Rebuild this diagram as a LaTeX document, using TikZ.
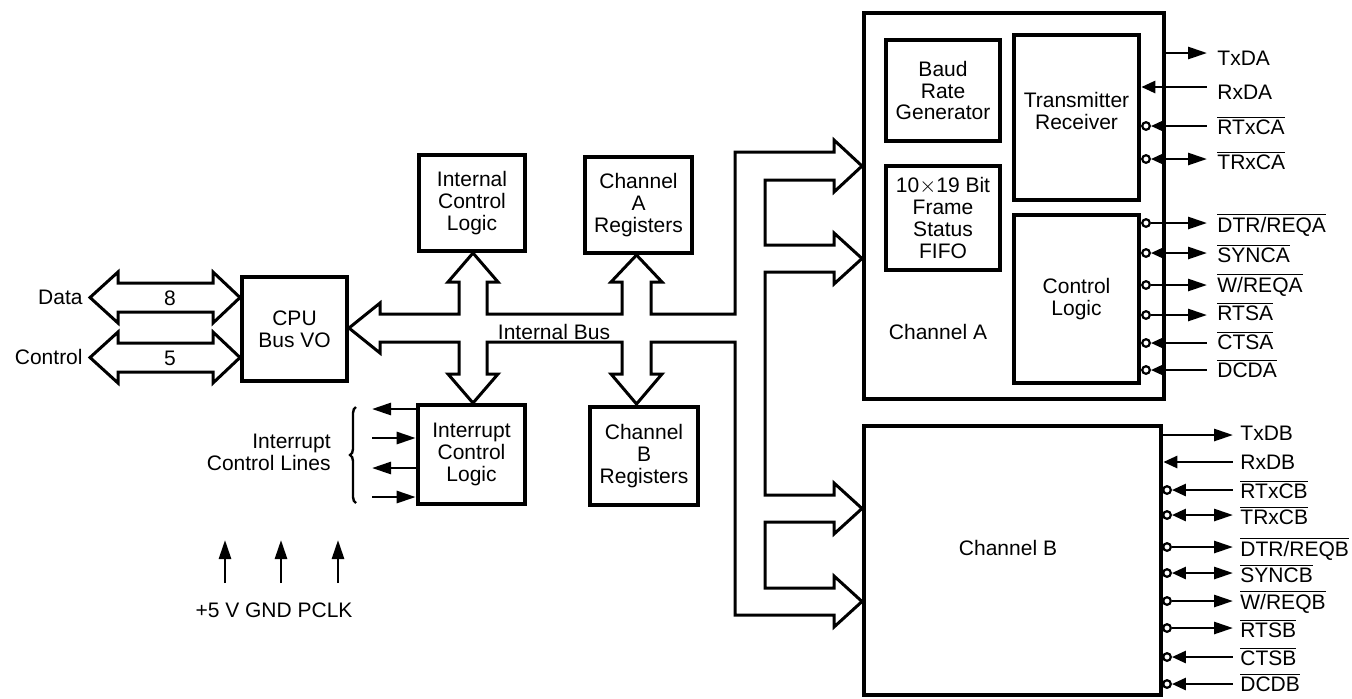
\documentclass[tikz,border=0pt]{standalone}
\usepackage{fontspec}
\setmainfont{Liberation Sans}
\usetikzlibrary{arrows.meta,decorations.pathreplacing}
\newcommand\ovl[1]{$\overline{\hbox{#1}}$}
\tikzset{
  bg/.tip={Triangle[length=9.5pt,width=6pt]},
  sm/.tip={Triangle[length=7pt,width=6pt]}
}
\begin{document}
\begin{tikzpicture}[x=0.5pt,y=-0.5pt,
  every node/.style={font=\fontsize{10.5}{10.9}\selectfont},
  blk/.style={draw,line width=2.3pt,align=center,inner sep=0pt},
  bus/.style={draw,line width=1.5pt,line join=miter},
  pinl/.style={line width=1.35pt},
  pc/.style={circle,draw,line width=1.1pt,fill=white,minimum size=3.8pt,inner sep=0pt},
  lbl/.style={anchor=base west,inner sep=0pt},
  txt/.style={inner sep=0pt}]

\useasboundingbox (0,0) rectangle (1352,698);

% ---------- blocks ----------
\node[blk,minimum width=52.5pt,minimum height=52pt] (cpu) at (294.5,329) {CPU\\Bus VO};
\node[blk,minimum width=53pt,minimum height=48pt] (icl) at (472,203) {Internal\\Control\\Logic};
\node[blk,minimum width=53.5pt,minimum height=48pt] (areg) at (638.5,205) {Channel\\A\\Registers};
\node[blk,minimum width=53.5pt,minimum height=49.5pt] (intr) at (471.5,454.5) {Interrupt\\Control\\Logic};
\node[blk,minimum width=54pt,minimum height=49pt] (breg) at (644,456) {Channel\\B\\Registers};

\node[blk,minimum width=150pt,minimum height=193pt] (cha) at (1014,206) {};
\node[blk,minimum width=57pt,minimum height=50.5pt] (baud) at (943,90.5) {Baud\\Rate\\Generator};
\node[blk,minimum width=57pt,minimum height=52pt] (fifo) at (943,218) {10$\times$19 Bit\\Frame\\Status\\FIFO};
\node[blk,minimum width=62.5pt,minimum height=82.5pt] (txrx) at (1076.5,117.5) {};
\node[txt,align=center] (txrxl) at (1076.5,111) {Transmitter\\Receiver};
\node[blk,minimum width=62.5pt,minimum height=84pt] (ctrl) at (1076.5,299) {Control\\Logic};
\node[txt] (chal) at (938,332) {Channel A};

\node[blk,minimum width=148.5pt,minimum height=134.5pt] (chb) at (1012.5,560.5) {};
\node[txt] (chbl) at (1008,548) {Channel B};

% ---------- internal bus ----------
\draw[bus] (349,328) -- (380,303) -- (380,314) -- (459,314) -- (459,282) -- (448,282)
  -- (473,253) -- (498,282) -- (487,282) -- (487,314) -- (622,314) -- (622,282)
  -- (611,282) -- (636.5,255) -- (662,282) -- (651,282) -- (651,314) -- (735,314)
  -- (735,152) -- (834,152) -- (834,140) -- (862,166) -- (834,192) -- (834,180)
  -- (765,180) -- (765,245) -- (834,245) -- (834,233) -- (862,258.5) -- (834,284)
  -- (834,272) -- (765,272) -- (765,495) -- (834,495) -- (834,483) -- (862,508.5)
  -- (834,534) -- (834,522) -- (765,522) -- (765,588) -- (834,588) -- (834,576)
  -- (862,601.5) -- (834,627) -- (834,615) -- (735,615) -- (735,342) -- (651,342)
  -- (651,374) -- (662,374) -- (636.5,404) -- (611,374) -- (622,374) -- (622,342)
  -- (487,342) -- (487,374) -- (498,374) -- (473,403) -- (448,374) -- (459,374)
  -- (459,342) -- (380,342) -- (380,353) -- cycle;
\node[txt] (ibus) at (554,332) {Internal Bus};

% ---------- data / control ----------
\draw[bus] (90,297.5) -- (118,272) -- (118,283) -- (213,283) -- (213,272) -- (240,297.5)
  -- (213,323) -- (213,312) -- (118,312) -- (118,323) -- cycle;
\draw[bus] (90,357.5) -- (118,332) -- (118,343) -- (213,343) -- (213,332) -- (240,357.5)
  -- (213,383) -- (213,372) -- (118,372) -- (118,383) -- cycle;
\node[txt,anchor=east] (data) at (83,297) {Data};
\node[txt,anchor=east] (ctl) at (83,357) {Control};
\node[txt] (n8) at (170,298) {8};
\node[txt] (n5) at (170,358) {5};

% ---------- interrupt lines ----------
\draw[pinl,-bg] (intr.west |- 0,409) -- (372,409);
\draw[pinl,-bg] (372,438) -- (intr.west |- 0,438);
\draw[pinl,-bg] (intr.west |- 0,468) -- (372,468);
\draw[pinl,-bg] (372,497) -- (intr.west |- 0,497);
\draw[line width=1.2pt,decorate,decoration={brace,amplitude=3pt}] (356,503) -- (356,407);
\node[txt,align=right,anchor=east] (intl) at (331,452) {Interrupt\\Control Lines};

% ---------- power ----------
\node[txt] (pwr) at (274,610) {+5 V GND PCLK};
\coordinate (p1a) at (225,583); \coordinate (p1b) at (225,540);
\coordinate (p2a) at (281,583); \coordinate (p2b) at (281,540);
\coordinate (p3a) at (338,583); \coordinate (p3b) at (338,540);
\draw[pinl,-bg] (p1a) -- (p1b);
\draw[pinl,-bg] (p2a) -- (p2b);
\draw[pinl,-bg] (p3a) -- (p3b);

% ---------- channel A pins ----------
\draw[pinl,-bg] (cha.east |- 0,53) -- (1207,53);
\draw[pinl,sm-] (txrx.east |- 0,87) -- (1207,87);
\node[pc] (a3) at (1146,126) {};
\node[pc] (a4) at (1146,159) {};
\node[pc] (a5) at (1146,223) {};
\node[pc] (a6) at (1146,253) {};
\node[pc] (a7) at (1146,285) {};
\node[pc] (a8) at (1146,315) {};
\node[pc] (a9) at (1146,343) {};
\node[pc] (a10) at (1146,370) {};
\draw[pinl,sm-] (a3) -- (1207,126);
\draw[pinl,sm-bg] (a4) -- (1207,159);
\draw[pinl,-bg] (a5) -- (1207,223);
\draw[pinl,sm-bg] (a6) -- (1207,253);
\draw[pinl,-bg] (a7) -- (1207,285);
\draw[pinl,-bg] (a8) -- (1207,315);
\draw[pinl,sm-] (a9) -- (1207,343);
\draw[pinl,sm-] (a10) -- (1207,370);
\node[lbl] at (1217,65.5) {TxDA};
\node[lbl] at (1217,99) {RxDA};
\node[lbl] at (1217,134.5) {\ovl{RTxCA}};
\node[lbl] at (1217,169.5) {\ovl{TRxCA}};
\node[lbl] at (1217,232.5) {\ovl{DTR/REQA}};
\node[lbl] at (1217,262.5) {\ovl{SYNCA}};
\node[lbl] at (1217,292.5) {\ovl{W/REQA}};
\node[lbl] at (1217,320.5) {\ovl{RTSA}};
\node[lbl] at (1217,349.5) {\ovl{CTSA}};
\node[lbl] at (1217,377.5) {\ovl{DCDA}};

% ---------- channel B pins ----------
\draw[pinl,-bg] (chb.east |- 0,435) -- (1233,435);
\draw[pinl,sm-] (chb.east |- 0,462) -- (1233,462);
\node[pc] (b3) at (1167,490) {};
\node[pc] (b4) at (1167,515) {};
\node[pc] (b5) at (1167,547) {};
\node[pc] (b6) at (1167,573) {};
\node[pc] (b7) at (1167,601) {};
\node[pc] (b8) at (1167,628) {};
\node[pc] (b9) at (1167,657) {};
\node[pc] (b10) at (1167,684) {};
\draw[pinl,sm-] (b3) -- (1233,490);
\draw[pinl,sm-bg] (b4) -- (1233,515);
\draw[pinl,-bg] (b5) -- (1233,547);
\draw[pinl,sm-bg] (b6) -- (1233,573);
\draw[pinl,-bg] (b7) -- (1233,601);
\draw[pinl,-bg] (b8) -- (1233,628);
\draw[pinl,sm-] (b9) -- (1233,657);
\draw[pinl,sm-] (b10) -- (1233,684);
\node[lbl] at (1240,440.5) {TxDB};
\node[lbl] at (1240,469.5) {RxDB};
\node[lbl] at (1240,498.5) {\ovl{RTxCB}};
\node[lbl] at (1240,524.5) {\ovl{TRxCB}};
\node[lbl] at (1240,556.5) {\ovl{DTR/REQB}};
\node[lbl] at (1240,582.5) {\ovl{SYNCB}};
\node[lbl] at (1240,609.5) {\ovl{W/REQB}};
\node[lbl] at (1240,637.5) {\ovl{RTSB}};
\node[lbl] at (1240,665.5) {\ovl{CTSB}};
\node[lbl] at (1240,691.5) {\ovl{DCDB}};
\end{tikzpicture}
\end{document}
